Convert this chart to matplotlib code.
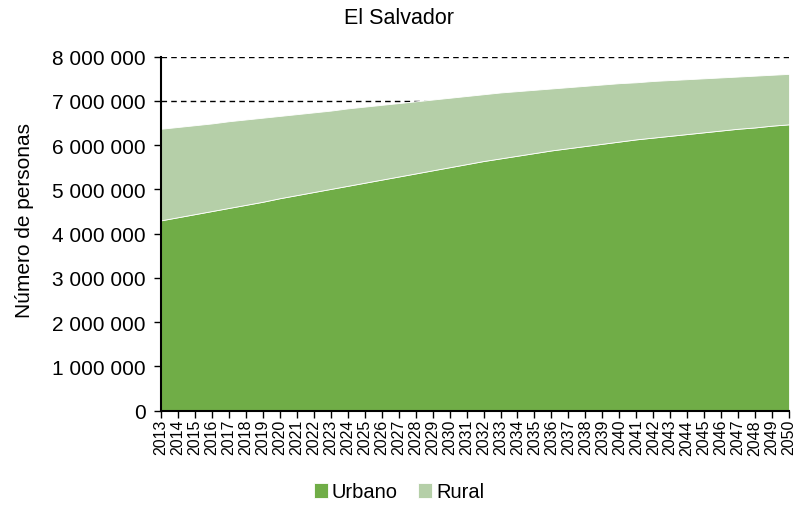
import matplotlib.pyplot as plt
from matplotlib.ticker import FuncFormatter

plt.rcParams['font.family'] = ['Liberation Sans', 'DejaVu Sans']

years = list(range(2013, 2051))
# millones de personas
urbano = [4.30, 4.37, 4.44, 4.51, 4.58, 4.65, 4.72, 4.80, 4.87, 4.94,
          5.01, 5.08, 5.15, 5.22, 5.29, 5.36, 5.43, 5.50, 5.57, 5.64,
          5.70, 5.76, 5.82, 5.88, 5.93, 5.98, 6.03, 6.08, 6.13, 6.17,
          6.21, 6.25, 6.29, 6.33, 6.37, 6.40, 6.44, 6.47]
total = [6.37, 6.41, 6.45, 6.49, 6.54, 6.58, 6.62, 6.66, 6.70, 6.74,
         6.78, 6.83, 6.87, 6.91, 6.95, 6.99, 7.03, 7.07, 7.11, 7.15,
         7.19, 7.22, 7.25, 7.28, 7.31, 7.34, 7.37, 7.40, 7.42, 7.45,
         7.47, 7.49, 7.51, 7.53, 7.55, 7.57, 7.59, 7.61]
urbano = [v * 1e6 for v in urbano]
rural = [t * 1e6 - u for t, u in zip(total, urbano)]

W, H = 798, 510
fig = plt.figure(figsize=(W / 100, H / 100), dpi=100)
ax = fig.add_axes([0.2018, 0.193, 0.787, 0.694])

ax.stackplot(years, urbano, rural, colors=["#70AD47", "#B5CFA8"],
             labels=["Urbano", "Rural"], edgecolor="white", linewidth=0.6, zorder=2)

ax.set_xlim(2013, 2050)
ax.set_ylim(0, 8e6)
ax.set_yticks(range(0, 8000001, 1000000))
ax.yaxis.set_major_formatter(FuncFormatter(lambda v, p: f"{int(v):,}".replace(",", " ")))
ax.set_xticks(years)
ax.set_xticklabels([str(y) for y in years], rotation=90, fontsize=11.5)
ax.tick_params(axis="y", labelsize=15, direction="out", length=5, width=1, pad=6)
ax.tick_params(axis="x", direction="out", length=5, width=1, pad=1)

ax.grid(axis="y", color="black", linestyle=(0, (4, 3)), linewidth=1, zorder=1)
ax.set_axisbelow(True)
for s in ["top", "right"]:
    ax.spines[s].set_visible(False)
for s in ["left", "bottom"]:
    ax.spines[s].set_linewidth(1.5)
    ax.spines[s].set_zorder(3)

fig.text(25 / W, 1 - 220 / H, "Número de personas", fontsize=15, rotation=90,
         ha="center", va="center")
fig.text(0.5, 1 - 19 / H, "El Salvador", fontsize=15.5, ha="center", va="center")

fig.legend(loc="center", bbox_to_anchor=(0.5, 1 - 493 / H), ncol=2, frameon=False,
           fontsize=14.5, handlelength=0.7, handleheight=0.7, handletextpad=0.2,
           columnspacing=1.0, borderpad=0)

fig.savefig("out.png", dpi=100)
